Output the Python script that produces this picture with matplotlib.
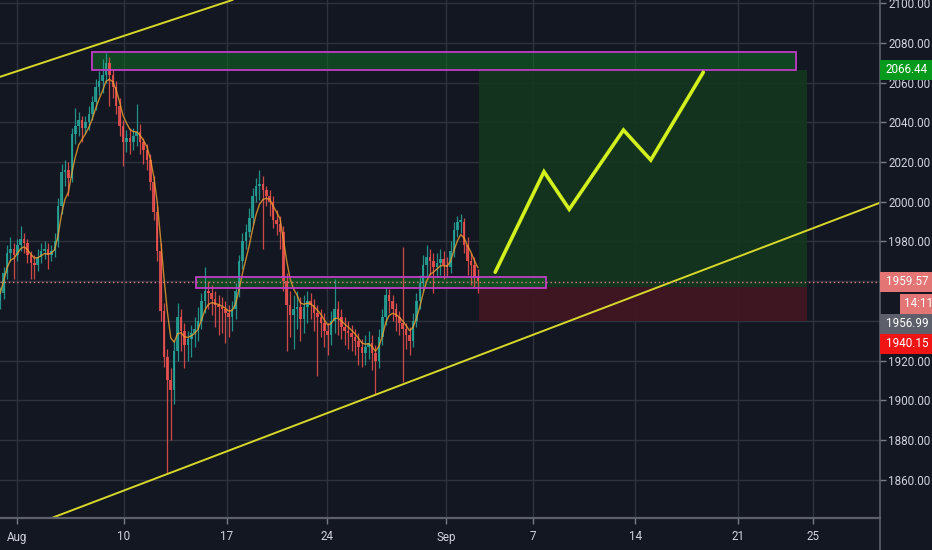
import numpy as np
import pandas as pd
import matplotlib
matplotlib.use('Agg')
import matplotlib.pyplot as plt
from matplotlib.patches import Rectangle
from matplotlib import transforms

# --- datos: velas de 4h (indice de barra) ---
first_open = 1950
closes = [1954, 1964, 1974, 1976, 1973, 1978, 1981, 1979, 1973, 1969,
          1968, 1972, 1975, 1976, 1973, 1975, 1980, 1998, 2015, 2016,
          2012, 2034, 2038, 2041, 2037, 2040, 2044, 2050, 2058, 2061,
          2064, 2070, 2064, 2058, 2048, 2038, 2030, 2032, 2030, 2033,
          2035, 2030, 2026, 2021, 2010, 1995, 1975, 1945, 1922, 1910,
          1905, 1925, 1942, 1935, 1928, 1931, 1934, 1936, 1940, 1950,
          1955, 1954, 1951, 1948, 1947, 1946, 1944, 1942, 1946, 1955,
          1970, 1980, 1985, 1992, 2003, 2008, 2009, 2006, 2003, 2000,
          1991, 1989, 1985, 1960, 1948, 1943, 1946, 1947, 1941, 1947,
          1950, 1948, 1944, 1942, 1939, 1935, 1933, 1940, 1946, 1942,
          1937, 1935, 1934, 1932, 1930, 1927, 1924, 1927, 1929, 1924,
          1920, 1932, 1942, 1953, 1950, 1946, 1942, 1939, 1936, 1933,
          1930, 1940, 1950, 1959, 1968, 1972, 1970, 1967, 1969, 1971,
          1968, 1967, 1975, 1986, 1990, 1990, 1978, 1970, 1968, 1962,
          1960]
highs = [1957, 1967, 1978, 1982, 1979, 1981, 1988, 1984, 1981, 1975,
         1973, 1976, 1979, 1980, 1979, 1978, 1984, 2002, 2019, 2021,
         2020, 2037, 2047, 2045, 2043, 2043, 2048, 2053, 2062, 2066,
         2072, 2075, 2073, 2067, 2061, 2052, 2041, 2036, 2037, 2037,
         2049, 2039, 2032, 2029, 2024, 2013, 1998, 1979, 1949, 1926,
         1916, 1930, 1949, 1946, 1939, 1935, 1938, 1942, 1947, 1954,
         1967, 1960, 1958, 1955, 1953, 1952, 1950, 1948, 1950, 1959,
         1973, 1984, 1989, 1997, 2007, 2012, 2016, 2013, 2008, 2006,
         2003, 1996, 1993, 1988, 1964, 1955, 1953, 1955, 1952, 1953,
         1955, 1954, 1951, 1948, 1946, 1944, 1939, 1945, 1961, 1950,
         1946, 1942, 1940, 1938, 1936, 1934, 1931, 1933, 1935, 1933,
         1928, 1936, 1946, 1957, 1956, 1953, 1949, 1945, 1977, 1939,
         1937, 1944, 1954, 1963, 1973, 1978, 1976, 1974, 1974, 1976,
         1975, 1972, 1980, 1990, 1993, 1994, 1992, 1982, 1974, 1972,
         1966]
lows = [1946, 1951, 1961, 1970, 1961, 1970, 1975, 1974, 1969, 1961,
        1961, 1965, 1969, 1971, 1966, 1970, 1972, 1977, 1994, 2008,
        2003, 2010, 2029, 2033, 2030, 2034, 2036, 2041, 2046, 2054,
        2055, 2060, 2048, 2052, 2044, 2033, 2018, 2025, 2024, 2026,
        2028, 2024, 2019, 2016, 2006, 1991, 1970, 1940, 1917, 1863,
        1880, 1898, 1920, 1925, 1916, 1920, 1922, 1927, 1930, 1936,
        1944, 1946, 1943, 1937, 1933, 1934, 1929, 1932, 1935, 1941,
        1952, 1966, 1976, 1982, 1989, 2000, 2001, 1976, 1998, 1993,
        1987, 1983, 1976, 1955, 1925, 1932, 1926, 1936, 1930, 1934,
        1939, 1941, 1935, 1912, 1932, 1927, 1923, 1928, 1934, 1933,
        1931, 1928, 1926, 1925, 1923, 1918, 1917, 1918, 1921, 1915,
        1903, 1916, 1928, 1938, 1944, 1940, 1935, 1933, 1909, 1926,
        1923, 1927, 1937, 1946, 1955, 1962, 1963, 1954, 1962, 1963,
        1961, 1962, 1964, 1972, 1982, 1984, 1974, 1963, 1958, 1957,
        1954]

date_ticks = [3.84, 35.3, 65.4, 94.8, 129.7, 155.1, 185.1, 215.2, 237.3]
date_labels = ['Aug', '10', '17', '24', 'Sep', '7', '14', '21', '25']
price_ticks = list(range(1860, 2101, 20))
hidden_ticks = [1940, 1960]   # tapadas por las etiquetas de precio

last_price = 1959.57
entry = 1956.99
target = 2066.44
stop = 1940.15
countdown = '14:11'
pos_start, pos_end = 139.4, 235.5

# zonas (x0, x1, precio bajo, precio alto)
res_zone = (25.8, 232.2, 2066.3, 2075.3)
sup_zone = (56.3, 159.0, 1956.7, 1962.2)

# proyeccion dibujada a mano
proj_x = [144.1, 158.4, 165.8, 181.7, 189.7, 205.1]
proj_y = [1964.5, 2015.1, 1996.2, 2036.1, 2021.0, 2065.2]

# lineas de tendencia (dos puntos cada una)
upper_line = [(-1.06, 2062.9), (67.05, 2101.6)]
lower_line = [(48.8, 1863.4), (256.9, 1999.5)]

# --- estilo ---
bg = '#131722'
grid_c = '#2e323d'
txt_c = '#d1d4dc'
up_c, dn_c = '#26a69a', '#ef5350'
plt.rcParams['font.family'] = ['Roboto', 'DejaVu Sans']
fs = 8.4

fig = plt.figure(figsize=(9.32, 5.5), dpi=100, facecolor=bg)
ax = fig.add_axes([0, 32 / 550, 880 / 932, 518 / 550], facecolor=bg)
ax.set_xlim(-1.06, 256.9)
ax.set_ylim(1840.7, 2101.6)

# rejilla
for p in price_ticks:
    ax.axhline(p, color=grid_c, lw=1, zorder=0)
for t in date_ticks:
    ax.axvline(t, color=grid_c, lw=1, zorder=0)

# posicion larga
ax.add_patch(Rectangle((pos_start, entry), pos_end - pos_start, target - entry,
                       facecolor='#15371f', edgecolor='none', alpha=0.9, zorder=1))
ax.add_patch(Rectangle((pos_start, stop), pos_end - pos_start, entry - stop,
                       facecolor='#421622', edgecolor='none', alpha=0.9, zorder=1))

# zonas de resistencia / soporte
for x0, x1, lo, hi in [res_zone, sup_zone]:
    ax.add_patch(Rectangle((x0, lo), x1 - x0, hi - lo, facecolor='#0d6b1f',
                           edgecolor='none', alpha=0.55, zorder=2))
    ax.add_patch(Rectangle((x0, lo), x1 - x0, hi - lo, facecolor='none',
                           edgecolor='#c03cc8', lw=1.3, zorder=5))

# velas
c = np.array(closes, dtype=float)
o = np.array([first_open] + closes[:-1], dtype=float)
h = np.array(highs, dtype=float)
l = np.array(lows, dtype=float)
bars = np.arange(len(c)) - 1
cols = np.where(c >= o, up_c, dn_c)
ax.vlines(bars, l, h, colors=cols, lw=0.9, alpha=0.85, zorder=3)
body = np.maximum(np.abs(c - o), 0.6)
ax.bar(bars, body, bottom=np.minimum(o, c), width=0.75, color=cols,
       alpha=0.85, zorder=3)

# media movil
ma = pd.Series(c).ewm(span=5).mean()
ax.plot(bars, ma, color='#f0a030', lw=1.0, alpha=0.8, zorder=4)

# lineas de tendencia
for pts in (upper_line, lower_line):
    ax.axline(pts[0], pts[1], color='#d8d82a', lw=1.4, zorder=6)

# proyeccion
ax.plot(proj_x, proj_y, color='#d2f01e', lw=2.6, solid_capstyle='round',
        solid_joinstyle='miter', zorder=7)

# precio actual
ax.axhline(last_price, color='#d77a86', lw=1, ls=(0, (1, 2)), zorder=6)

# ejes
for s in ax.spines.values():
    s.set_visible(False)
ax.yaxis.tick_right()
ax.set_yticks(price_ticks)
ax.set_yticklabels(['' if p in hidden_ticks else f'{p:.2f}' for p in price_ticks])
ax.set_xticks(date_ticks)
ax.set_xticklabels(date_labels)
ax.tick_params(axis='y', colors='#787b86', labelcolor=txt_c, length=4,
               width=1, labelsize=fs, pad=2)
ax.tick_params(axis='x', colors='#787b86', labelcolor=txt_c, length=4,
               width=1, labelsize=fs, pad=5)

# bordes del panel
fig.add_artist(plt.Line2D([0, 880 / 932], [32 / 550, 32 / 550],
                          color='#5d606b', lw=1.6))
fig.add_artist(plt.Line2D([880 / 932, 880 / 932], [0, 1],
                          color='#5d606b', lw=1.2))

# etiquetas de precio en el eje
tr = transforms.blended_transform_factory(fig.transFigure, ax.transData)
x_ax = 880 / 932
w_ax = 1 - x_ax
labels = [
    (target, f'{target:.2f}', '#089a1c', 0),
    (last_price, f'{last_price:.2f}', '#e37575', 0),
    (1948.7, countdown, '#e37575', 20 / 932),
    (1938.6, f'{entry:.2f}', '#5d606b', 0),
    (1928.4, f'{stop:.2f}', '#f01414', 0),
]
for y, s, col, dx in labels:
    fig.add_artist(Rectangle((x_ax + dx, y - 5), w_ax - dx, 10,
                             transform=tr, facecolor=col, edgecolor='none',
                             zorder=10))
    fig.text(x_ax + dx + (6 if dx == 0 else 4) / 932, y, s,
             transform=tr, color='white', fontsize=fs, va='center',
             ha='left', zorder=11)

fig.savefig('out.png', dpi=100, facecolor=bg)
plt.close(fig)
